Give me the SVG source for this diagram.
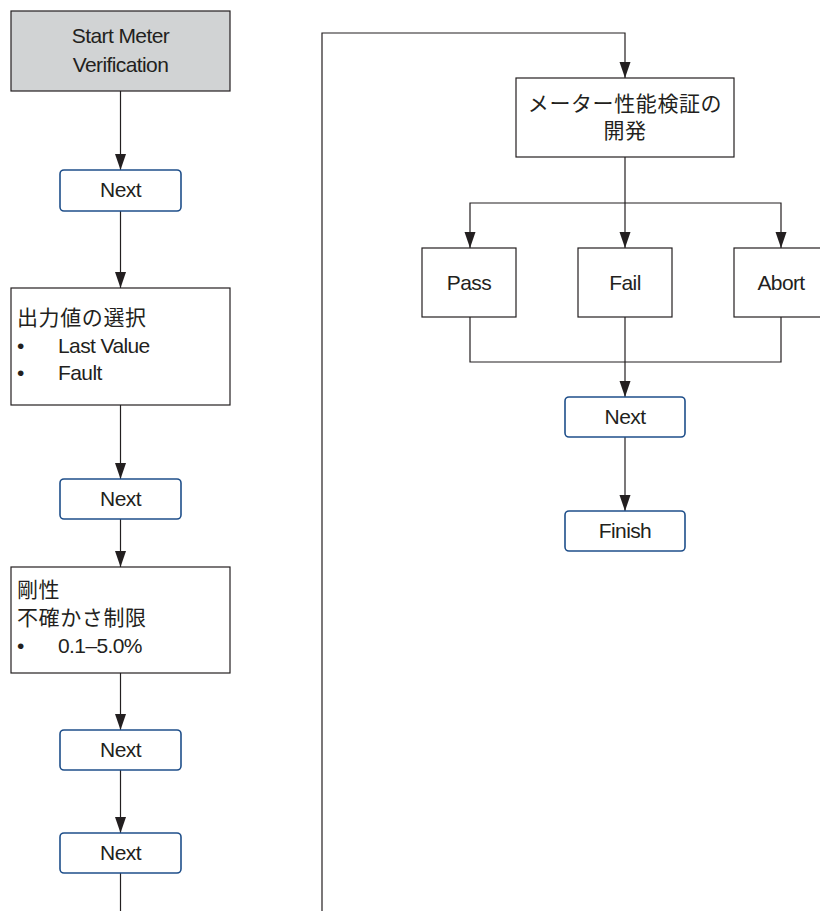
<svg xmlns="http://www.w3.org/2000/svg" width="820" height="911" viewBox="0 0 820 911">
<style>
.box{fill:#ffffff;stroke:#231f20;stroke-width:1.2}
.start{fill:#d1d3d4;stroke:#231f20;stroke-width:1.2}
.btn{fill:#ffffff;stroke:#1f4f8a;stroke-width:1.6}
.t{font-family:"Liberation Sans",Arial,sans-serif;font-size:21px;fill:#231f20;letter-spacing:-0.6px}
.c{text-anchor:middle}
.j{font-family:"Liberation Sans","Noto Sans CJK JP",sans-serif;font-size:21px;fill:#231f20;letter-spacing:0.6px}
.ln{fill:none;stroke:#231f20;stroke-width:1.2}
</style>
<g id="connectors">
<line class="ln" x1="120.5" y1="91" x2="120.5" y2="170"/>
<line class="ln" x1="120.5" y1="211" x2="120.5" y2="288"/>
<line class="ln" x1="120.5" y1="405" x2="120.5" y2="479"/>
<line class="ln" x1="120.5" y1="519" x2="120.5" y2="567"/>
<line class="ln" x1="120.5" y1="673" x2="120.5" y2="730"/>
<line class="ln" x1="120.5" y1="770" x2="120.5" y2="833"/>
<line class="ln" x1="120.5" y1="873" x2="120.5" y2="911"/>
<polyline class="ln" points="322,911 322,33 625,33 625,78"/>
<line class="ln" x1="625" y1="157" x2="625" y2="248"/>
<polyline class="ln" points="470,248 470,203 781,203 781,248"/>
<polyline class="ln" points="470,317 470,362 781,362 781,317"/>
<line class="ln" x1="625" y1="317" x2="625" y2="397"/>
<line class="ln" x1="625" y1="437" x2="625" y2="511"/>
</g>
<g id="arrowheads" fill="#231f20">
<path d="M115,154 L126,154 L120.5,170 Z"/>
<path d="M115,272 L126,272 L120.5,288 Z"/>
<path d="M115,463 L126,463 L120.5,479 Z"/>
<path d="M115,551 L126,551 L120.5,567 Z"/>
<path d="M115,714 L126,714 L120.5,730 Z"/>
<path d="M115,817 L126,817 L120.5,833 Z"/>
<path d="M619.5,62 L630.5,62 L625,78 Z"/>
<path d="M464.5,232 L475.5,232 L470,248 Z"/>
<path d="M619.5,232 L630.5,232 L625,248 Z"/>
<path d="M775.5,232 L786.5,232 L781,248 Z"/>
<path d="M619.5,381 L630.5,381 L625,397 Z"/>
<path d="M619.5,495 L630.5,495 L625,511 Z"/>
</g>
<g id="start">
<rect class="start" x="11" y="11" width="219" height="80"/>
<text class="t c" x="120.5" y="43">Start Meter</text>
<text class="t c" x="120.5" y="72">Verification</text>
</g>
<g id="next1">
<rect class="btn" x="60" y="170" width="121" height="41" rx="4"/>
<text class="t c" x="120.5" y="197">Next</text>
</g>
<g id="output-select">
<rect class="box" x="11" y="288" width="219" height="117"/>
<text class="j" x="17" y="325">出力値の選択</text>
<text class="t" x="17" y="353">•</text>
<text class="t" x="58" y="353">Last Value</text>
<text class="t" x="17" y="380">•</text>
<text class="t" x="58" y="380">Fault</text>
</g>
<g id="next2">
<rect class="btn" x="60" y="479" width="121" height="40" rx="4"/>
<text class="t c" x="120.5" y="506">Next</text>
</g>
<g id="limit">
<rect class="box" x="11" y="567" width="219" height="106"/>
<text class="j" x="17" y="597">剛性</text>
<text class="j" x="17" y="625">不確かさ制限</text>
<text class="t" x="17" y="653">•</text>
<text class="t" x="58" y="653">0.1–5.0%</text>
</g>
<g id="next3">
<rect class="btn" x="60" y="730" width="121" height="40" rx="4"/>
<text class="t c" x="120.5" y="757">Next</text>
</g>
<g id="next4">
<rect class="btn" x="60" y="833" width="121" height="40" rx="4"/>
<text class="t c" x="120.5" y="860">Next</text>
</g>
<g id="develop">
<rect class="box" x="516" y="78" width="218" height="79"/>
<text class="j c" x="625" y="111">メーター性能検証の</text>
<text class="j c" x="625" y="138">開発</text>
</g>
<g id="pass">
<rect class="box" x="422" y="248" width="94" height="69"/>
<text class="t c" x="469" y="290">Pass</text>
</g>
<g id="fail">
<rect class="box" x="578" y="248" width="94" height="69"/>
<text class="t c" x="625" y="290">Fail</text>
</g>
<g id="abort">
<rect class="box" x="734" y="248" width="94" height="69"/>
<text class="t c" x="781" y="290">Abort</text>
</g>
<g id="next5">
<rect class="btn" x="565" y="397" width="120" height="40" rx="4"/>
<text class="t c" x="625" y="424">Next</text>
</g>
<g id="finish">
<rect class="btn" x="565" y="511" width="120" height="40" rx="4"/>
<text class="t c" x="625" y="538">Finish</text>
</g>
</svg>
